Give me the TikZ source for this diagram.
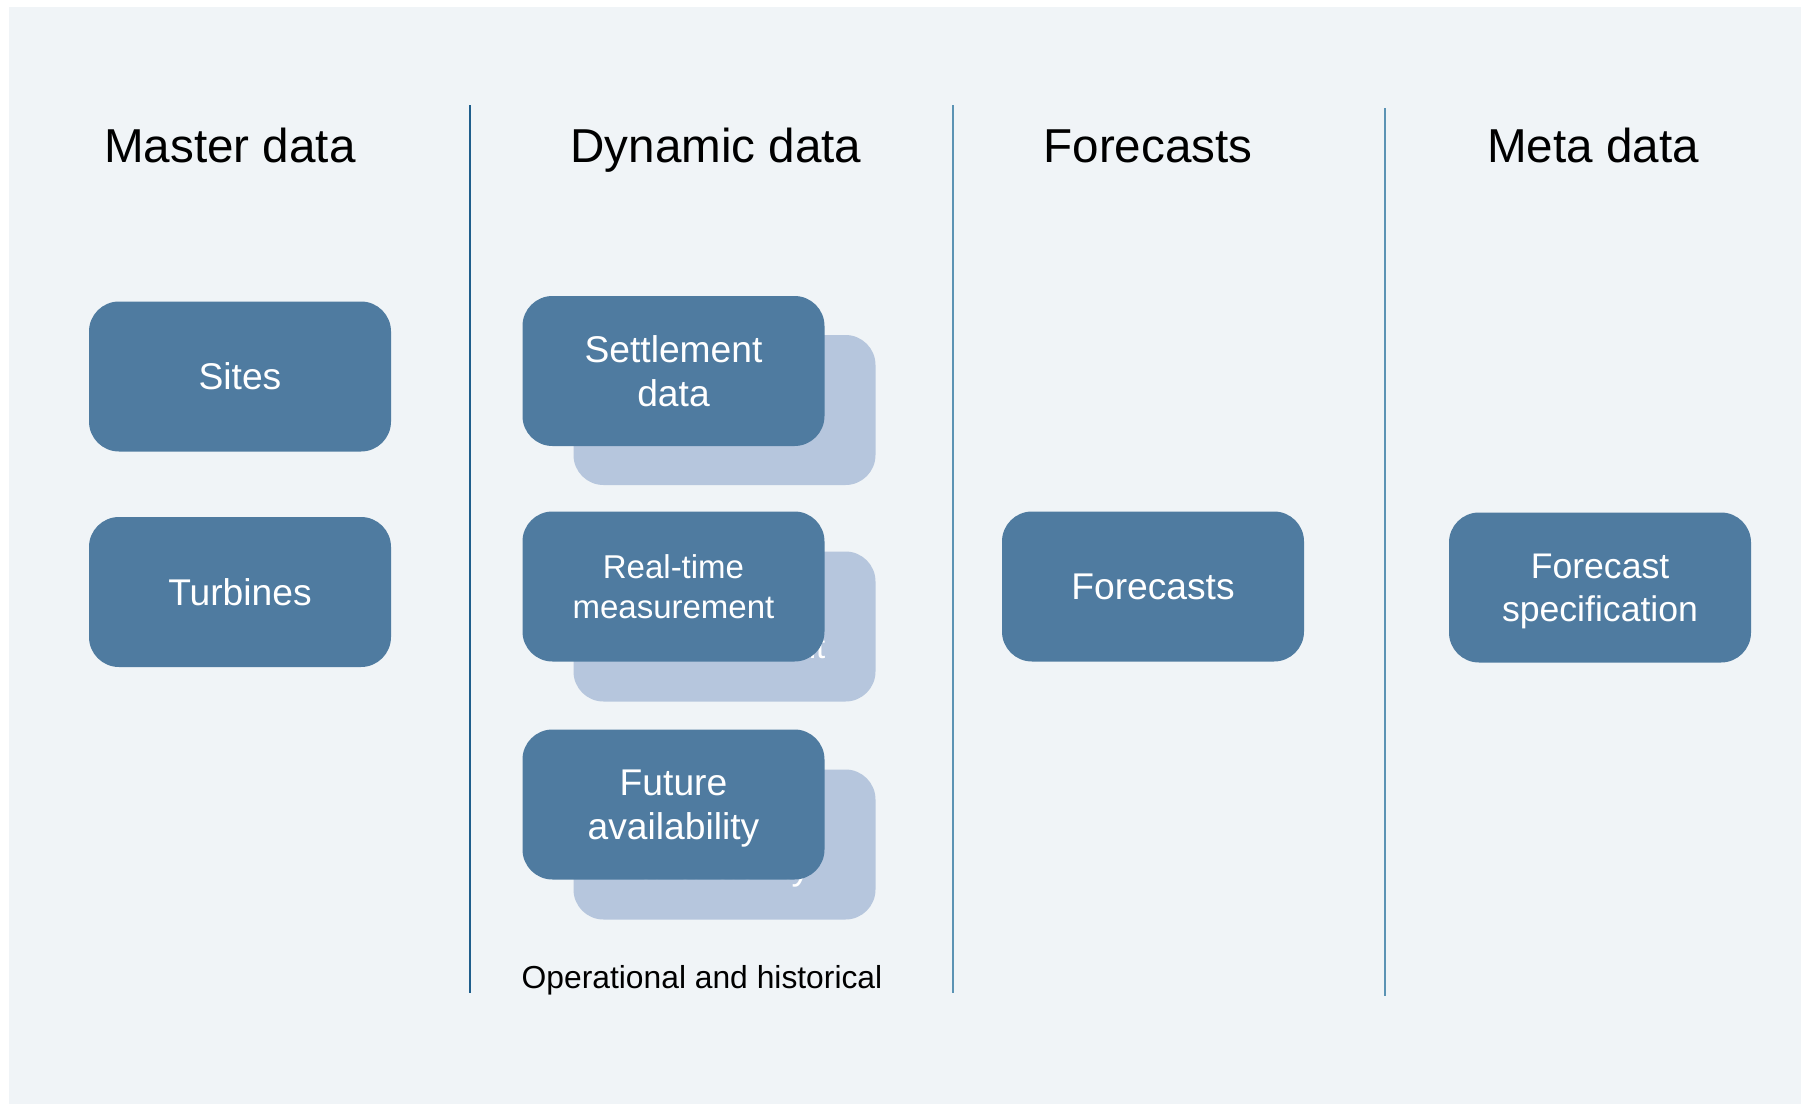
\documentclass[tikz,border=0pt]{standalone}
\usepackage{fontspec}
\setmainfont{Liberation Sans}
\definecolor{pagebg}{HTML}{F0F4F7}
\definecolor{boxblue}{HTML}{4F7BA0}
\definecolor{backblue}{HTML}{B6C6DD}
\definecolor{divdark}{HTML}{1F5E8C}
\definecolor{divlight}{HTML}{5B93B4}
\begin{document}
\begin{tikzpicture}[x=0.5pt,y=-0.5pt,
  box/.style={rectangle, rounded corners=15pt, fill=boxblue, text=white,
    minimum width=151pt, minimum height=75pt, inner sep=0pt, align=center,
    text depth=-2pt, font=\fontsize{18.6}{22}\selectfont},
  backbox/.style={box, fill=backblue},
  header/.style={anchor=base, text=black, font=\fontsize{23.8}{28}\selectfont},
  caption/.style={anchor=base, text=black, font=\fontsize{15.9}{19}\selectfont},
  divider/.style={line width=1pt}
]
% page and panel background
\fill[white] (0,0) rectangle (1806,1104);
\fill[pagebg] (9,7) rectangle (1801,1104);
\useasboundingbox (0,0) rectangle (1806,1104);

% column headers
\node[header] (hMaster)   at (230,162)  {Master data};
\node[header] (hDynamic)  at (716,162)  {Dynamic data};
\node[header] (hForecast) at (1148,162) {Forecasts};
\node[header] (hMeta)     at (1593,162) {Meta data};

% column dividers
\coordinate (d1t) at (470,105);  \coordinate (d1b) at (470,993);
\coordinate (d2t) at (953,105);  \coordinate (d2b) at (953,993);
\coordinate (d3t) at (1385,108); \coordinate (d3b) at (1385,996);
\draw[divider, divdark]  (d1t) -- (d1b);
\draw[divider, divlight] (d2t) -- (d2b);
\draw[divider, divlight] (d3t) -- (d3b);

% master data
\node[box] (sites)    at (240,376.5) {Sites};
\node[box] (turbines) at (240,592)   {Turbines};

% dynamic data: stacked cards (back copies first)
\node[backbox] (settleB) at (724.5,410)   {Settlement\\data};
\node[box]     (settle)  at (673.5,371)   {Settlement\\data};
\node[backbox, font=\fontsize{16.5}{20}\selectfont] (realB) at (724.5,626.5) {Real-time\\measurement};
\node[box, font=\fontsize{16.5}{20}\selectfont]     (real)  at (673.5,586.5) {Real-time\\measurement};
\node[backbox] (futureB) at (724.5,844.5) {Future\\availability};
\node[box]     (future)  at (673.5,804.5) {Future\\availability};
\node[caption] (ophist) at (702,988) {Operational and historical};

% forecasts
\node[box] (forecasts) at (1153,586.5) {Forecasts};

% meta data
\node[box, font=\fontsize{17.8}{21.3}\selectfont] (fspec) at (1600,587.5) {Forecast\\specification};
\end{tikzpicture}
\end{document}
